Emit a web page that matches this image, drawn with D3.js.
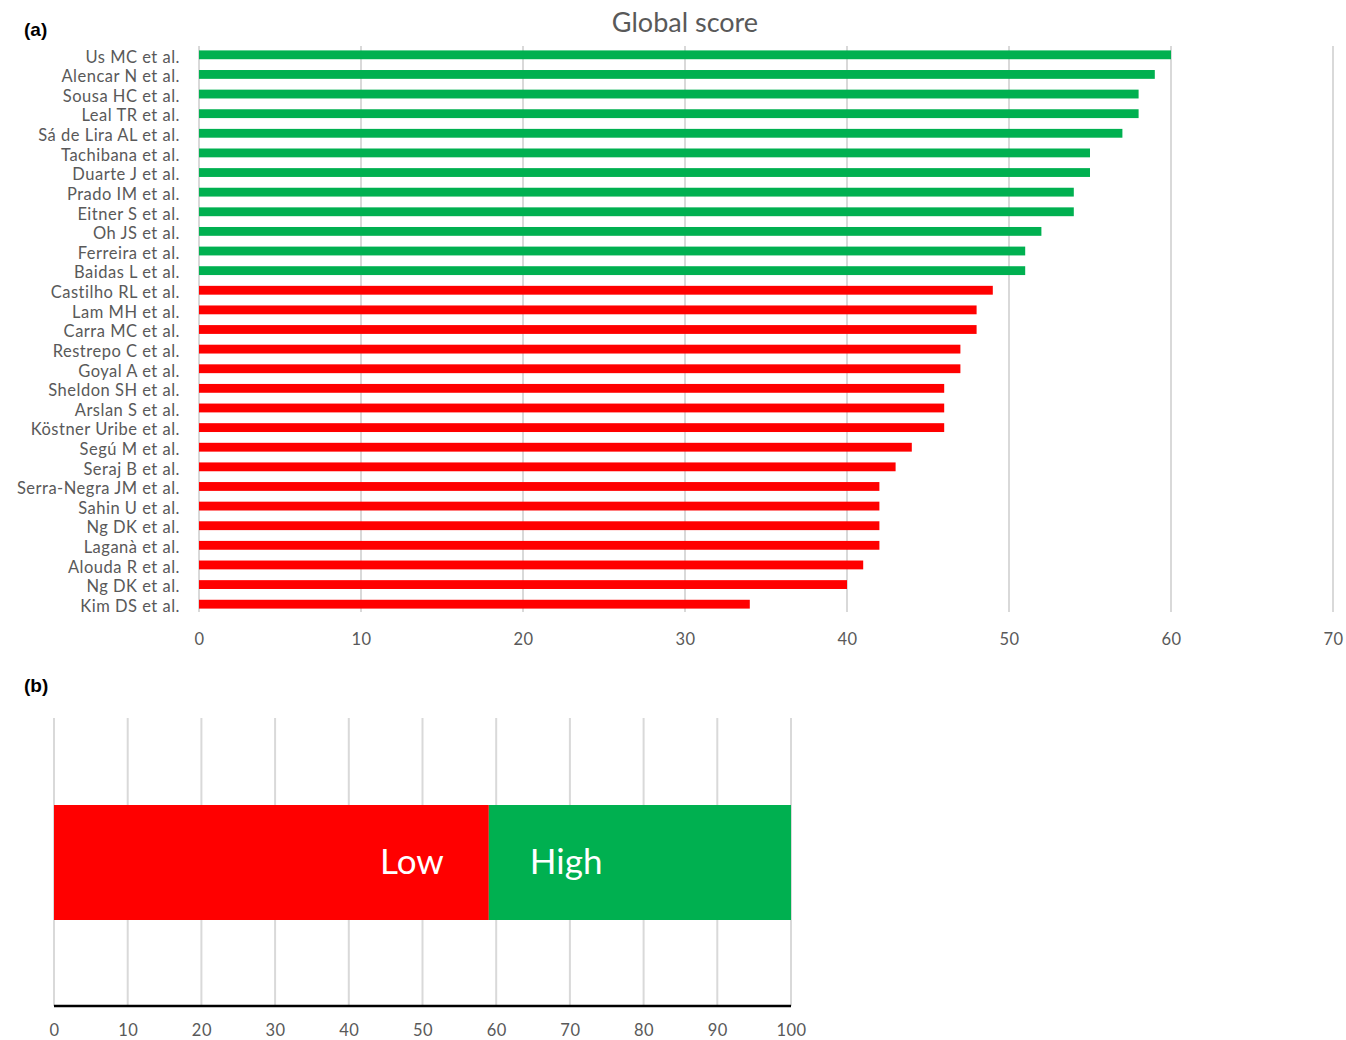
<!DOCTYPE html>
<html>
<head>
<meta charset="utf-8">
<script src="https://cdn.jsdelivr.net/npm/d3@7"></script>
<style>
  html, body { margin: 0; padding: 0; background: #fff; }
  svg { display: block; }
</style>
</head>
<body>
<svg id="chart" width="1346" height="1040"></svg>
<script>
const studies = [
  "Us MC et al.", "Alencar N et al.", "Sousa HC et al.", "Leal TR et  al.",
  "Sá de Lira AL et al.", "Tachibana et al.", "Duarte J et al.", "Prado IM et al.",
  "Eitner S et al.", "Oh JS et al.", "Ferreira et al.", "Baidas L et al.",
  "Castilho RL et  al.", "Lam MH et al.", "Carra MC et al.", "Restrepo C et al.",
  "Goyal A et al.", "Sheldon SH et al.", "Arslan S et al.", "Köstner Uribe et al.",
  "Segú M et al.", "Seraj B et al.", "Serra-Negra JM et al.", "Sahin U et al.",
  "Ng DK et al.", "Laganà et al.", "Alouda R et al.", "Ng DK et al. ", "Kim DS et al."
];
const scores = [60, 59, 58, 58, 57, 55, 55, 54, 54, 52, 51, 51,
                49, 48, 48, 47, 47, 46, 46, 46, 44, 43, 42, 42, 42, 42, 41, 40, 34];
const qualityThreshold = 50;
const xTicksA = [0, 10, 20, 30, 40, 50, 60, 70];

const bandNames = ["Low", "High"];
const bandStarts = [0, 59];
const bandEnds = [59, 100];
const xTicksB = [0, 10, 20, 30, 40, 50, 60, 70, 80, 90, 100];

const RED = "#ff0000", GREEN = "#00b050", GRID = "#d9d9d9", TXT = "#595959";
const svg = d3.select("#chart");
const FONT = "Lato, 'Open Sans', sans-serif";

// ---------- Panel (a) ----------
svg.append("text").attr("x", 24).attr("y", 36)
  .attr("font-family", "Arial, 'Liberation Sans', sans-serif").attr("font-weight", "bold")
  .attr("font-size", 19).attr("fill", "#000").text("(a)");

svg.append("text").attr("x", 685).attr("y", 32).attr("text-anchor", "middle")
  .attr("font-family", FONT).attr("font-size", 27).attr("fill", TXT).text("Global score");

const xA = d3.scaleLinear().domain([0, 70]).range([199, 1333]);
const yA = d3.scaleBand().domain(d3.range(studies.length)).range([45, 614])
  .paddingInner(0.55).paddingOuter(0.275);

const gA = svg.append("g");
gA.selectAll("line.grid").data(xTicksA).join("line")
  .attr("x1", d => xA(d)).attr("x2", d => xA(d))
  .attr("y1", 46).attr("y2", 612)
  .attr("stroke", GRID).attr("stroke-width", 2);

gA.selectAll("rect.bar").data(scores).join("rect")
  .attr("x", xA(0)).attr("y", (d, i) => yA(i))
  .attr("width", d => xA(d) - xA(0)).attr("height", yA.bandwidth())
  .attr("fill", d => d > qualityThreshold ? GREEN : RED);

gA.selectAll("text.lab").data(studies).join("text")
  .attr("x", 180).attr("y", (d, i) => yA(i) + yA.bandwidth() / 2 + 2)
  .attr("dy", "0.35em").attr("text-anchor", "end")
  .attr("font-family", FONT).attr("font-size", 16.5).attr("fill", TXT)
  .attr("letter-spacing", 0.5)
  .text(d => d.trim());

const axA = d3.axisBottom(xA).tickValues(xTicksA).tickSize(0).tickPadding(0);
const gAx = svg.append("g").attr("transform", "translate(0,633)").call(axA);
gAx.select(".domain").remove();
gAx.selectAll("text").attr("font-family", FONT).attr("font-size", 16.5)
  .attr("fill", TXT).attr("dy", "0.71em").attr("letter-spacing", 0.5);

// ---------- Panel (b) ----------
svg.append("text").attr("x", 24).attr("y", 692)
  .attr("font-family", "Arial, 'Liberation Sans', sans-serif").attr("font-weight", "bold")
  .attr("font-size", 19).attr("fill", "#000").text("(b)");

const xB = d3.scaleLinear().domain([0, 100]).range([54, 791]);
const gB = svg.append("g");
gB.selectAll("line.grid").data(xTicksB).join("line")
  .attr("x1", d => xB(d)).attr("x2", d => xB(d))
  .attr("y1", 718).attr("y2", 1006)
  .attr("stroke", GRID).attr("stroke-width", 2);

gB.selectAll("rect.band").data(bandNames).join("rect")
  .attr("x", (d, i) => xB(bandStarts[i])).attr("y", 805)
  .attr("width", (d, i) => xB(bandEnds[i]) - xB(bandStarts[i])).attr("height", 115)
  .attr("fill", (d, i) => i === 0 ? RED : GREEN);

gB.selectAll("text.bandlab").data(bandNames).join("text")
  .attr("x", (d, i) => i === 0 ? xB(bandEnds[i]) - 45 : xB(bandStarts[i]) + 41)
  .attr("y", 862).attr("dy", "0.35em")
  .attr("text-anchor", (d, i) => i === 0 ? "end" : "start")
  .attr("font-family", FONT).attr("font-size", 35).attr("fill", "#fff")
  .text(d => d);

svg.append("line").attr("x1", xB(0)).attr("x2", xB(100))
  .attr("y1", 1006).attr("y2", 1006).attr("stroke", "#000").attr("stroke-width", 2.5);

const axB = d3.axisBottom(xB).tickValues(xTicksB).tickSize(0).tickPadding(0);
const gBx = svg.append("g").attr("transform", "translate(0,1024)").call(axB);
gBx.select(".domain").remove();
gBx.selectAll("text").attr("font-family", FONT).attr("font-size", 16.5)
  .attr("fill", TXT).attr("dy", "0.71em").attr("letter-spacing", 0.5);
</script>
</body>
</html>
